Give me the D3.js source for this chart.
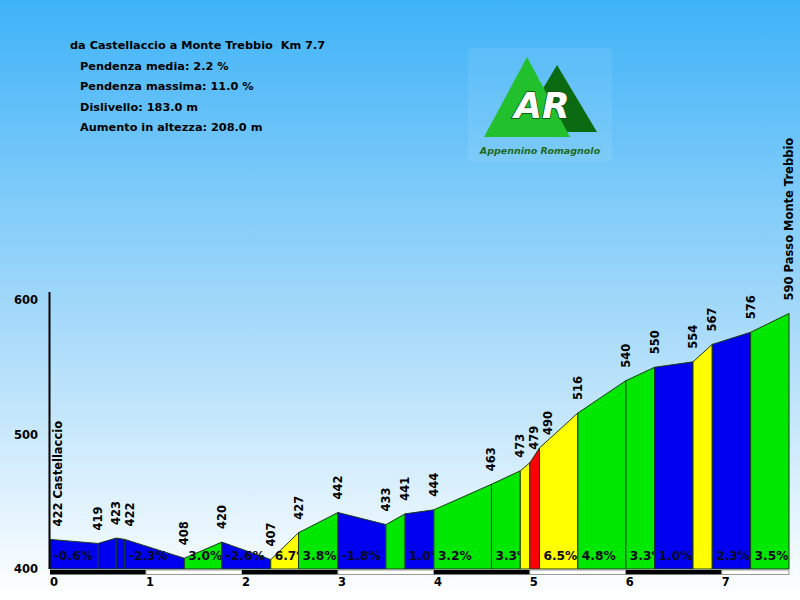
<!DOCTYPE html>
<html>
<head>
<meta charset="utf-8">
<script src="https://d3js.org/d3.v7.min.js"></script>
<style>
    body { margin: 0; }
    svg { display: block; }
    text { white-space: pre; }
</style>
</head>
<body>
<div id="profile"></div>
<script>
// header info
const titleLine = "da Castellaccio a Monte Trebbio  Km 7.7";
const infoLines = ["Pendenza media: 2.2 %", "Pendenza massima: 11.0 %", "Dislivello: 183.0 m", "Aumento in altezza: 208.0 m"];

// profile points
const km = [0, 0.5, 0.69, 0.78, 1.4, 1.79, 2.3, 2.59, 3.0, 3.5, 3.7, 4.0, 4.6, 4.9, 5.0, 5.1, 5.5, 6.0, 6.3, 6.7, 6.9, 7.3, 7.7];
const quota = [422, 419, 423, 422, 408, 420, 407, 427, 442, 433, 441, 444, 463, 473, 479, 490, 516, 540, 550, 554, 567, 576, 590];
const pointNames = ["Castellaccio", "", "", "", "", "", "", "", "", "", "", "", "", "", "", "", "", "", "", "", "", "", "Passo Monte Trebbio"];

// one entry per segment between two points
const segClass = ["blue", "blue", "blue", "blue", "green", "blue", "yellow", "green", "blue", "green", "blue",
    "green", "green", "yellow", "red", "yellow", "green", "green", "blue", "yellow", "blue", "green"];
const segLabels = ["-0.6%", "", "", "-2.3%", "3.0%", "-2.6%", "6.7%", "3.8%", "-1.8%", "", "1.0%",
    "3.2%", "3.3%", "", "", "6.5%", "4.8%", "3.3%", "1.0%", "", "2.3%", "3.5%"];

const yTicks = [400, 500, 600];
const xTicks = [0, 1, 2, 3, 4, 5, 6, 7];

class ProfileVis {
    constructor(parentElement) {
        this.parentElement = parentElement;
        this.initVis();
    }

    initVis() {
        let vis = this;
        vis.width = 800;
        vis.height = 600;
        vis.colors = {blue: "#0000f0", green: "#00e800", yellow: "#ffff00", red: "#ff0000"};
        vis.font = "'DejaVu Sans', Verdana, sans-serif";

        vis.svg = d3.select("#" + vis.parentElement).append("svg")
            .attr("width", vis.width)
            .attr("height", vis.height);

        // sky background
        vis.defs = vis.svg.append("defs");
        let grad = vis.defs.append("linearGradient")
            .attr("id", "sky").attr("x1", 0).attr("y1", 0).attr("x2", 0).attr("y2", 1);
        grad.append("stop").attr("offset", "0%").attr("stop-color", "#3fb3f8");
        grad.append("stop").attr("offset", "55%").attr("stop-color", "#a9dbfa");
        grad.append("stop").attr("offset", "100%").attr("stop-color", "#ffffff");
        vis.svg.append("rect")
            .attr("width", vis.width).attr("height", vis.height)
            .attr("fill", "url(#sky)");

        vis.x = d3.scaleLinear().domain([0, 7.7]).range([50, 789]);
        vis.y = d3.scaleLinear().domain([400, 600]).range([569, 300]);

        vis.drawHeader();
        vis.drawLogo();
        vis.drawProfile();
        vis.drawAxes();
    }

    drawHeader() {
        let vis = this;
        let g = vis.svg.append("g")
            .attr("font-family", vis.font)
            .attr("font-weight", "bold")
            .attr("font-size", 11.3)
            .attr("fill", "#000");
        g.append("text").attr("x", 70).attr("y", 49).text(titleLine);
        g.selectAll(".info").data(infoLines).join("text")
            .attr("class", "info")
            .attr("x", 80)
            .attr("y", (d, i) => 69.5 + i * 20.5)
            .text(d => d);
    }

    drawLogo() {
        let vis = this;
        let g = vis.svg.append("g");
        g.append("rect")
            .attr("x", 468).attr("y", 48).attr("width", 144).attr("height", 114)
            .attr("fill", "#ffffff").attr("opacity", 0.07);
        // dark mountain behind
        g.append("path")
            .attr("d", "M557,65 L597,132 L517,132 Z")
            .attr("fill", "#0b6b12");
        // light mountain
        g.append("path")
            .attr("d", "M527,57 L570,137 L484,137 Z")
            .attr("fill", "#22c02c");
        g.append("text")
            .attr("x", 542).attr("y", 118)
            .attr("text-anchor", "middle")
            .attr("font-family", vis.font)
            .attr("font-style", "italic")
            .attr("font-weight", "bold")
            .attr("font-size", 36)
            .attr("fill", "#ffffff")
            .attr("stroke", "#0b4f10")
            .attr("stroke-width", 1.5)
            .attr("paint-order", "stroke")
            .text("AR");
        g.append("text")
            .attr("x", 540).attr("y", 154)
            .attr("text-anchor", "middle")
            .attr("font-family", vis.font)
            .attr("font-style", "italic")
            .attr("font-weight", "bold")
            .attr("font-size", 9.5)
            .attr("fill", "#1d6a1d")
            .text("Appennino Romagnolo");
    }

    drawProfile() {
        let vis = this;
        let g = vis.svg.append("g");

        // each segment, then its gradient label clipped to the segment
        segClass.forEach((c, i) => {
            let x0 = vis.x(km[i]), x1 = vis.x(km[i + 1]);
            let pts = [[x0, vis.y(400)], [x0, vis.y(quota[i])], [x1, vis.y(quota[i + 1])], [x1, vis.y(400)]];
            g.append("path")
                .attr("d", "M" + pts.join("L") + "Z")
                .attr("fill", vis.colors[c])
                .attr("stroke", "#1b3a1b")
                .attr("stroke-width", 1);
            if (segLabels[i]) {
                vis.defs.append("clipPath").attr("id", "seg" + i)
                    .append("rect")
                    .attr("x", x0).attr("y", vis.y(600))
                    .attr("width", x1 - x0 - 0.5).attr("height", vis.y(400) - vis.y(600));
                g.append("text")
                    .attr("clip-path", `url(#seg${i})`)
                    .attr("x", x0 + 4)
                    .attr("y", 560)
                    .attr("font-family", vis.font)
                    .attr("font-weight", "bold")
                    .attr("font-size", 12.2)
                    .attr("fill", "#0a0a1e")
                    .text(segLabels[i]);
            }
        });

        // elevation labels, rotated
        let prev = -100;
        quota.forEach((q, i) => {
            let lx = vis.x(km[i]);
            if (i === 0) lx += 8;
            if (lx - prev < 10) lx = prev + 14;
            prev = lx;
            let label = pointNames[i] ? q + " " + pointNames[i] : "" + q;
            g.append("text")
                .attr("transform", `translate(${lx + 4},${vis.y(q) - 13}) rotate(-90)`)
                .attr("font-family", vis.font)
                .attr("font-weight", "bold")
                .attr("font-size", 11.5)
                .attr("fill", "#000")
                .text(label);
        });
    }

    drawAxes() {
        let vis = this;
        let g = vis.svg.append("g");

        // y axis line and labels
        g.append("line")
            .attr("x1", vis.x(0) - 0.5).attr("x2", vis.x(0) - 0.5)
            .attr("y1", 292).attr("y2", vis.y(400))
            .attr("stroke", "#000").attr("stroke-width", 2);
        g.selectAll(".ytick").data(yTicks).join("text")
            .attr("class", "ytick")
            .attr("x", 38)
            .attr("y", d => vis.y(d) + 4)
            .attr("text-anchor", "end")
            .attr("font-family", vis.font)
            .attr("font-weight", "bold")
            .attr("font-size", 11.5)
            .text(d => d);

        // km bar, black and white
        g.selectAll(".kmbar").data(xTicks).join("rect")
            .attr("class", "kmbar")
            .attr("x", d => vis.x(d))
            .attr("y", 570)
            .attr("width", d => vis.x(Math.min(d + 1, 7.7)) - vis.x(d))
            .attr("height", 4.5)
            .attr("fill", d => d % 2 === 0 ? "#000" : "#fff")
            .attr("stroke", d => d % 2 === 0 ? "none" : "#999")
            .attr("stroke-width", 1);

        g.selectAll(".xtick").data(xTicks).join("text")
            .attr("class", "xtick")
            .attr("x", d => vis.x(d))
            .attr("y", 586)
            .attr("font-family", vis.font)
            .attr("font-weight", "bold")
            .attr("font-size", 11.5)
            .text(d => d);
    }
}

new ProfileVis("profile");
</script>
</body>
</html>
